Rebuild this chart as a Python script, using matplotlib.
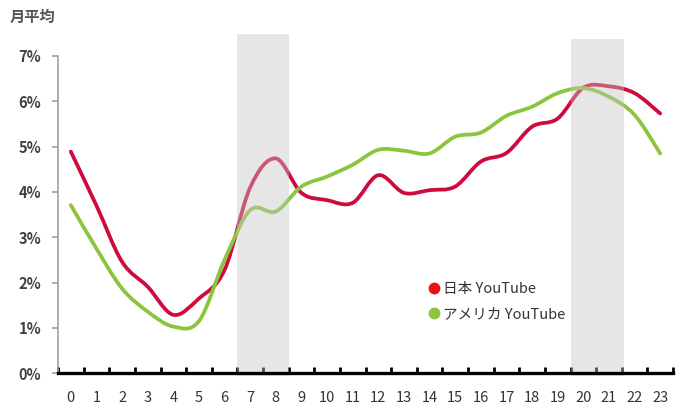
import numpy as np
import matplotlib
matplotlib.use("Agg")
import matplotlib.pyplot as plt
from matplotlib.path import Path
from matplotlib.patches import PathPatch, Rectangle
from matplotlib.lines import Line2D

plt.rcParams['font.family'] = ['Noto Sans CJK JP', 'DejaVu Sans']

# 時間帯 (0-23時) と月平均の視聴比率 (%)
hours = np.arange(24)
japan = [4.89, 3.70, 2.46, 1.91, 1.29, 1.65, 2.28, 4.10, 4.74, 3.98,
         3.82, 3.76, 4.37, 3.98, 4.04, 4.12, 4.67, 4.86, 5.44, 5.62,
         6.30, 6.33, 6.18, 5.73]
usa = [3.71, 2.75, 1.87, 1.36, 1.03, 1.15, 2.50, 3.60, 3.57, 4.12,
       4.34, 4.60, 4.93, 4.91, 4.85, 5.22, 5.31, 5.68, 5.88, 6.18,
       6.29, 6.10, 5.70, 4.85]
labels = ["日本 YouTube", "アメリカ YouTube"]
shade_spans = [(6.5, 8.5, 7.49), (19.5, 21.6, 7.37)]

red = "#cf0a3c"
green = "#8cc43c"


def smooth_path(x, y):
    # Excel風のスムージング (Catmull-Rom -> ベジェ)
    p = np.column_stack([x, y]).astype(float)
    ext = np.vstack([p[0], p, p[-1]])
    verts = [p[0]]
    codes = [Path.MOVETO]
    for i in range(len(p) - 1):
        p0, p1, p2, p3 = ext[i], ext[i + 1], ext[i + 2], ext[i + 3]
        verts += [p1 + (p2 - p0) / 6, p2 - (p3 - p1) / 6, p2]
        codes += [Path.CURVE4] * 3
    return Path(verts, codes)


fig = plt.figure(figsize=(6.92, 4.18), dpi=100)
ax = fig.add_axes([58 / 692, 44.7 / 418, 615 / 692, 340 / 418])

for vals, c in [(japan, red), (usa, green)]:
    ax.add_patch(PathPatch(smooth_path(hours, vals), fill=False, edgecolor=c,
                           lw=2.7, capstyle='round', joinstyle='round', zorder=2))

for x0, x1, top in shade_spans:
    ax.add_patch(Rectangle((x0, -0.07), x1 - x0, top + 0.07, facecolor="#c4c4c4",
                           alpha=0.42, edgecolor='none', zorder=3, clip_on=False))

ax.set_xlim(-0.5, 23.5)
ax.set_ylim(0, 7.5)

ax.spines['top'].set_visible(False)
ax.spines['right'].set_visible(False)
ax.spines['left'].set_color('#a0a0a0')
ax.spines['left'].set_linewidth(1.2)
ax.spines['left'].set_bounds(0, 7)
ax.spines['bottom'].set_color('black')
ax.spines['bottom'].set_linewidth(2.4)
ax.spines['bottom'].set_zorder(4)

ax.set_yticks(range(8))
ax.set_yticklabels([f"{v}%" for v in range(8)], fontsize=10.5, fontweight='bold',
                   color='#404040')
ax.tick_params(axis='y', direction='out', length=4, width=1.2, color='#a0a0a0', pad=8)

ax.set_xticks(np.arange(-0.5, 24, 1))
ax.set_xticklabels([])
ax.set_xticks(hours, minor=True)
ax.set_xticklabels([str(h) for h in hours], minor=True, fontsize=10.5, color='#333333')
ax.tick_params(axis='x', which='major', direction='in', length=4, width=2, color='black')
ax.tick_params(axis='x', which='minor', length=0, pad=13)

fig.text(10 / 692, 1 - 17 / 418, "月平均", fontsize=11, fontweight='bold',
         color='#555555', va='center', ha='left')

handles = [Line2D([], [], ls='none', marker='o', markersize=7.5, color='#ee1111'),
           Line2D([], [], ls='none', marker='o', markersize=7.5, color=green)]
ax.legend(handles, labels, loc='center left', bbox_to_anchor=(0.583, 0.212),
          frameon=False, handlelength=0.6, handletextpad=0.3, labelspacing=0.75,
          prop={'size': 10.5}, labelcolor='#333333')

fig.savefig("out.png", dpi=100)
